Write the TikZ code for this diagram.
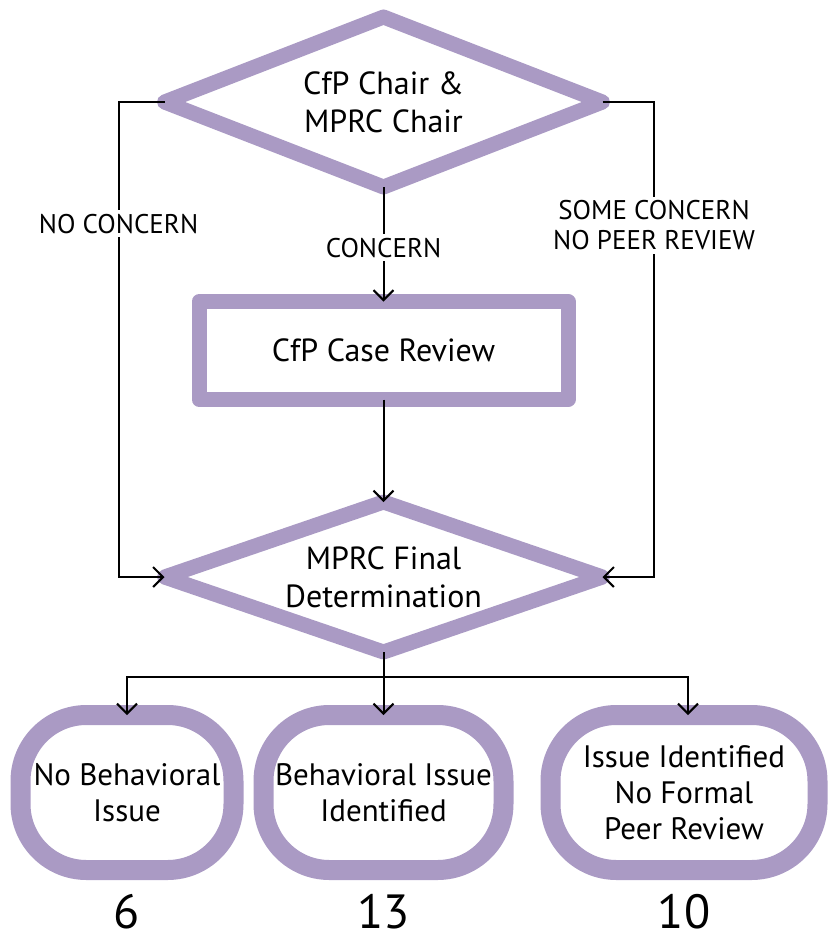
\documentclass[tikz,border=0pt]{standalone}
\usepackage{fontspec}
\setmainfont{PT Sans}
\usetikzlibrary{
	arrows.meta,
	positioning,
	shapes.geometric
}
\definecolor{lilac}{RGB}{170,154,196}

\begin{document}
\begin{tikzpicture}[
	x = 0.5pt, y = -0.5pt,
	node distance = 57.25pt and 15pt,
	decision/.style args = {#1/#2}{
		diamond, aspect=2.6, draw=lilac, line width=7.5pt, line join=round,
		inner sep=0pt, outer sep=0pt,
		minimum width=#1, minimum height=#2,
		align=center, font=\fontsize{16}{19}\selectfont
	},
	process/.style = {
		rectangle, draw=lilac, line width=7.5pt, line join=round,
		inner sep=0pt, outer sep=0pt,
		minimum width=184.5pt, minimum height=49pt,
		font=\fontsize{16}{19}\selectfont
	},
	outcome/.style = {
		rectangle, rounded corners=33pt, draw=lilac, line width=10pt,
		inner sep=0pt, outer sep=0pt,
		minimum width=#1, minimum height=77.5pt,
		align=center, font=\fontsize{15.5}{18}\selectfont
	},
	count/.style = {
		inner sep=0pt, font=\fontsize{24}{28}\selectfont
	},
	tag/.style = {
		fill=white, inner sep=2pt, align=center,
		font=\fontsize{13.5}{15}\selectfont
	},
	arr/.style = {
		line width=1pt, -{Straight Barb[length=5pt,width=10pt]}
	}
]
	\useasboundingbox (0,0) rectangle (827,939);

	\node [decision=219pt/85pt] (chairs) at (383.5,102) {CfP Chair \&\\MPRC Chair};
	\node [process, below=57.25pt of chairs] (review) {CfP Case Review};
	\node [decision=219pt/75pt, below=51.25pt of review] (final) {MPRC Final\\Determination};

	\node [outcome=120pt, below=31.5pt of final] (behav) {Behavioral Issue\\Identified};
	\node [outcome=106.5pt, left=15pt of behav] (nobeh) {No Behavioral\\Issue};
	\node [outcome=133.5pt, right=23.5pt of behav] (formal) {Issue Identified\\No Formal\\Peer Review};

	\node [count, below=12pt of nobeh] {6};
	\node [count, below=12pt of behav] {13};
	\node [count, below=12pt of formal] {10};

	\draw [arr] (chairs.south) -- node [tag, pos=0.53] {CONCERN} (review.north);
	\draw [arr] (review.south) -- (final.north);
	\draw [arr] (chairs.west) -- ++(-46,0) |- node [tag, pos=0.128] {NO CONCERN} (final.west);
	\draw [arr] (chairs.east) -- ++(51.5,0) |- node [tag, pos=0.13] {SOME CONCERN\\NO PEER REVIEW} (final.east);

	\draw [line width=1pt] (final.south) -- ++(0,25) coordinate (bus);
	\draw [arr] (bus) -| (nobeh.north);
	\draw [arr] (bus) -| ([xshift=2pt]formal.north);
	\draw [arr] (final.south) -- (behav.north);
\end{tikzpicture}
\end{document}
